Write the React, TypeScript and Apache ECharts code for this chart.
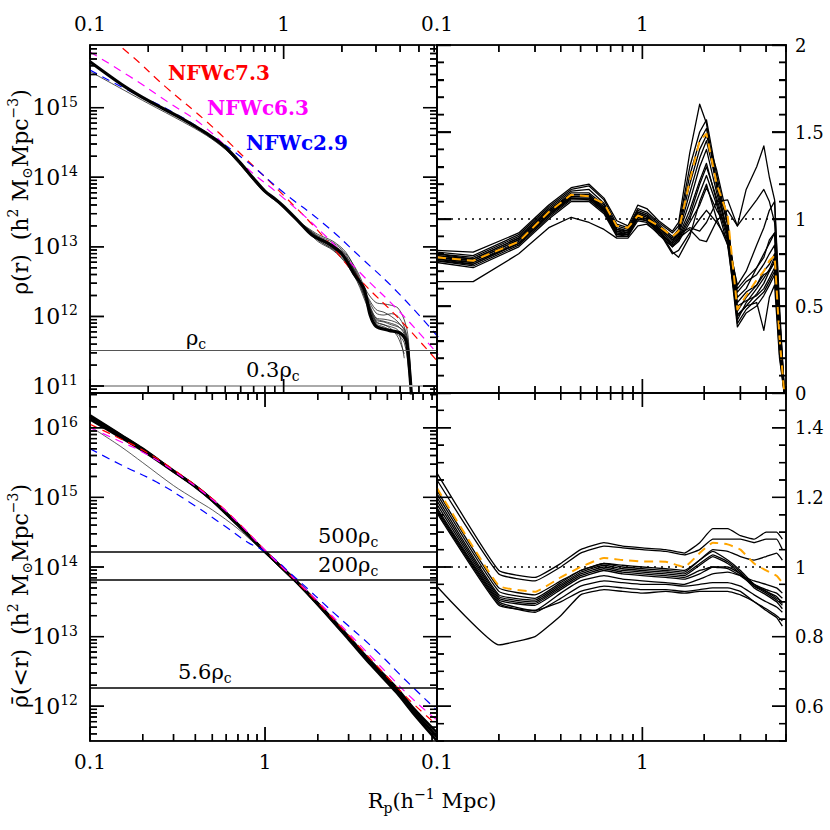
import React, { useEffect, useRef } from "react";
import * as echarts from "echarts";

const FONT = "'DejaVu Serif', 'Liberation Serif', serif";

// ================= constants =================
const RHO_C = 3.3e11; // critical density, h^2 Msun Mpc^-3
const TL_LEVELS = [1, 0.3]; // multiples of rho_c in top-left panel
const BL_LEVELS = [500, 200, 5.6]; // multiples of rho_c in bottom-left panel

// tick labels of the right panels
const TR_Y_LABELS = [0, 0.5, 1, 1.5, 2];
const BR_Y_LABELS = [0.6, 0.8, 1, 1.2, 1.4];

// ================= top-left: rho(r) (log10 values) =================
const TL_NFW_R = [0.1, 0.16, 0.25, 0.4, 0.63, 1.0, 1.6, 2.5, 4.0, 6.3];
const TL_NFW_C73 = [16.23, 15.77, 15.28, 14.8, 14.28, 13.74, 13.15, 12.52, 11.95, 11.34];
const TL_NFW_C63 = [15.8, 15.45, 15.09, 14.7, 14.16, 13.7, 13.19, 12.62, 12.06, 11.45];
const TL_NFW_C29 = [15.54, 15.24, 14.98, 14.64, 14.25, 13.78, 13.34, 12.85, 12.31, 11.7];

const TL_MAIN_R = [0.1, 0.15, 0.2, 0.3, 0.4, 0.5, 0.6, 0.7, 0.8, 0.9, 1.0, 1.2, 1.4, 1.7, 2.0, 2.3, 2.6, 2.8, 3.0, 3.5, 4.0, 4.3, 4.45, 4.62];
const TL_MAIN = [15.66, 15.31, 15.1, 14.84, 14.63, 14.43, 14.2, 13.98, 13.8, 13.69, 13.58, 13.36, 13.17, 13.05, 12.9, 12.62, 12.4, 12.02, 11.86, 11.8, 11.76, 11.64, 11.3, 10.7];

const TL_FULL_R = [0.1, 0.15, 0.2, 0.3, 0.4, 0.5, 0.6, 0.7, 0.8, 1.0, 1.2, 1.5, 1.8, 2.1, 2.4, 2.7, 3.0, 3.3, 3.6, 3.9, 4.2, 4.4, 4.6];
const TL_FULL = [15.52, 15.25, 15.06, 14.8, 14.6, 14.4, 14.17, 13.95, 13.78, 13.57, 13.35, 13.12, 12.99, 12.83, 12.58, 12.26, 11.97, 11.93, 11.9, 11.86, 11.75, 11.52, 10.75];

const TL_THIN_R = [1.2, 1.5, 1.8, 2.1, 2.4, 2.7, 3.0, 3.3, 3.6, 3.9, 4.2, 4.4, 4.6];
const TL_T1 = [13.36, 13.16, 13.06, 12.9, 12.65, 12.35, 12.2, 12.18, 12.16, 12.12, 11.95, 11.7, 10.8];
const TL_T2 = [13.36, 13.14, 13.02, 12.86, 12.6, 12.28, 12.05, 12.02, 12.04, 12.0, 11.85, 11.6, 10.8];
const TL_T3 = [13.35, 13.1, 12.96, 12.78, 12.52, 12.2, 11.95, 11.92, 11.88, 11.85, 11.78, 11.55, 10.75];
const TL_T4 = [13.36, 13.12, 13.0, 12.84, 12.58, 12.25, 11.9, 11.85, 11.8, 11.74, 11.62, 11.3, 10.7];
const TL_T5 = [13.37, 13.13, 12.98, 12.8, 12.55, 12.18, 11.92, 11.88, 11.82, 11.7, 11.46, null, null];
const TL_T6 = [13.35, 13.08, 12.95, 12.76, 12.5, 12.15, 11.88, 11.83, 11.8, 11.76, 11.7, 11.5, 10.8];
const TL_T7 = [13.36, 13.18, 13.08, 12.92, 12.62, 12.3, 12.1, 12.06, 12.0, 11.92, 11.8, 11.55, 10.75];
const TL_T8 = [13.36, 13.1, 12.97, 12.82, 12.56, 12.22, 11.98, 11.96, 11.94, 11.9, 11.82, 11.62, 10.8];
const TL_T9 = [13.36, 13.15, 13.03, 12.88, 12.57, 12.24, 11.93, 11.88, 11.85, 11.8, 11.4, null, null];

// ================= bottom-left: mean density (log10 values) =================
const BL_R = [0.1, 0.15, 0.2, 0.3, 0.4, 0.5, 0.7, 1.0, 1.5, 2.0, 3.0, 4.0, 5.66, 7.0, 9.6];
const BL_MAIN = [16.16, 15.89, 15.69, 15.38, 15.16, 14.96, 14.61, 14.22, 13.8, 13.47, 12.98, 12.62, 12.22, 11.94, 11.56];
const BL_A = [16.18, 15.9, 15.7, 15.38, 15.16, 14.96, 14.61, 14.22, 13.79, 13.46, 12.96, 12.6, 12.19, 11.9, 11.5];
const BL_B = [16.12, 15.86, 15.67, 15.37, 15.15, 14.95, 14.6, 14.22, 13.8, 13.48, 13.0, 12.65, 12.26, 11.98, 11.62];
const BL_THIN = [16.02, 15.73, 15.5, 15.17, 14.97, 14.82, 14.55, 14.2, 13.79, 13.46, 12.97, 12.61, 12.21, 11.93, 11.55];

const BL_NFW_R = [0.1, 0.15, 0.2, 0.3, 0.5, 0.7, 1.0, 1.5, 2.0, 3.0, 5.0, 7.0, 9.6];
const BL_NFW_C73 = [16.05, 15.84, 15.68, 15.4, 14.98, 14.64, 14.24, 13.8, 13.49, 13.02, 12.42, 12.04, 11.73];
const BL_NFW_C63 = [16.0, 15.8, 15.65, 15.38, 14.97, 14.64, 14.24, 13.81, 13.51, 13.05, 12.47, 12.1, 11.8];
const BL_NFW29_R = [0.1, 0.15, 0.24, 0.37, 0.58, 0.79, 1.0, 1.5, 2.5, 4.3, 6.2, 9.6];
const BL_NFW_C29 = [15.7, 15.47, 15.22, 14.93, 14.6, 14.36, 14.22, 13.84, 13.33, 12.8, 12.4, 11.94];

// ================= top-right: density ratio =================
const TR_R = [0.1, 0.15, 0.25, 0.35, 0.45, 0.55, 0.65, 0.75, 0.85, 0.95, 1.05, 1.2, 1.4, 1.5, 1.7, 1.9, 2.05, 2.3, 2.6, 2.9, 3.2, 3.6, 3.9, 4.15, 4.4, 4.65, 4.9];
const TR_L1 = [0.82, 0.81, 0.92, 1.08, 1.18, 1.2, 1.12, 0.99, 0.96, 1.08, 1.06, 0.99, 0.93, 0.98, 1.38, 1.66, 1.55, 1.18, 0.92, 0.6, 0.66, 0.72, 0.8, 0.86, 0.92, 0.4, 0.02];
const TR_L2 = [0.81, 0.79, 0.91, 1.07, 1.17, 1.19, 1.11, 0.97, 0.95, 1.06, 1.04, 0.98, 0.92, 0.96, 1.3, 1.5, 1.57, 1.25, 0.96, 0.47, 0.55, 0.62, 0.7, 0.74, 0.8, 0.32, 0.0];
const TR_L3 = [0.8, 0.78, 0.9, 1.06, 1.16, 1.17, 1.09, 0.96, 0.94, 1.05, 1.03, 0.97, 0.9, 0.94, 1.25, 1.45, 1.52, 1.22, 0.9, 0.42, 0.52, 0.6, 0.66, 0.71, 0.78, 0.3, 0.0];
const TR_L4 = [0.79, 0.77, 0.89, 1.05, 1.15, 1.15, 1.08, 0.95, 0.93, 1.04, 1.02, 0.96, 0.89, 0.93, 1.2, 1.4, 1.48, 1.28, 1.0, 0.45, 0.5, 0.57, 0.63, 0.7, 0.75, 0.28, 0.0];
const TR_L5 = [0.78, 0.76, 0.88, 1.04, 1.14, 1.14, 1.07, 0.94, 0.93, 1.03, 1.01, 0.95, 0.88, 0.92, 1.15, 1.35, 1.45, 1.2, 0.98, 0.5, 0.53, 0.56, 0.6, 0.66, 0.72, 0.25, 0.0];
const TR_L6 = [0.77, 0.75, 0.87, 1.03, 1.13, 1.13, 1.06, 0.93, 0.92, 1.02, 1.0, 0.94, 0.87, 0.91, 1.1, 1.3, 1.4, 1.15, 0.92, 0.4, 0.48, 0.54, 0.58, 0.64, 0.7, 0.3, 0.01];
const TR_L7 = [0.76, 0.74, 0.86, 1.02, 1.12, 1.12, 1.05, 0.92, 0.91, 1.01, 0.99, 0.93, 0.86, 0.9, 1.05, 1.22, 1.32, 1.1, 0.88, 0.38, 0.46, 0.5, 0.56, 0.62, 0.68, 0.22, 0.0];
const TR_L8 = [0.76, 0.73, 0.85, 1.01, 1.11, 1.11, 1.04, 0.91, 0.91, 1.0, 0.99, 0.92, 0.85, 0.88, 1.0, 1.15, 1.25, 1.08, 0.85, 0.44, 0.5, 0.52, 0.36, 0.55, 0.62, 0.2, 0.0];
const TR_L9 = [0.75, 0.72, 0.84, 1.0, 1.1, 1.1, 1.03, 0.9, 0.9, 0.99, 0.98, 0.91, 0.84, 0.87, 0.98, 1.08, 1.18, 1.05, 0.95, 0.55, 0.6, 0.72, 0.78, 0.88, 0.92, 0.35, 0.02];
const TR_L10 = [0.8, 0.77, 0.89, 1.05, 1.14, 1.14, 1.06, 0.94, 0.92, 1.04, 1.02, 0.95, 0.88, 0.91, 0.95, 0.93, 0.98, 1.1, 1.11, 0.96, 1.03, 1.11, 1.17, 1.1, 0.98, 0.45, 0.03];
const TR_L11 = [0.79, 0.76, 0.88, 1.04, 1.13, 1.13, 1.05, 0.93, 0.91, 1.03, 1.01, 0.94, 0.84, 0.89, 0.94, 0.88, 0.87, 0.99, 1.05, 0.96, 1.17, 1.3, 1.42, 1.24, 1.11, 0.5, 0.02];
const TR_L12 = [0.77, 0.74, 0.86, 1.02, 1.12, 1.11, 1.04, 0.91, 0.9, 1.01, 1.0, 0.93, 0.8, 0.82, 0.92, 1.0, 1.05, 0.98, 0.88, 0.62, 0.7, 0.85, 0.95, 1.05, 1.1, 0.45, 0.02];
const TR_L13 = [0.78, 0.75, 0.86, 1.03, 1.12, 1.12, 1.05, 0.92, 0.91, 1.02, 1.0, 0.94, 0.81, 0.78, 0.9, 1.1, 1.2, 1.0, 0.85, 0.58, 0.64, 0.68, 0.74, 0.8, 0.85, 0.38, 0.0];
const TR_L14 = [0.64, 0.64, 0.8, 0.95, 1.01, 0.98, 0.94, 0.89, 0.89, 0.96, 0.97, 0.92, 0.86, 0.89, 1.02, 1.2, 1.3, 1.12, 0.9, 0.52, 0.58, 0.62, 0.68, 0.7, 0.76, 0.3, 0.0];
const TR_MEAN = [0.78, 0.76, 0.87, 1.04, 1.14, 1.13, 1.09, 0.96, 0.95, 1.02, 1.0, 0.96, 0.9, 0.93, 1.22, 1.45, 1.49, 1.2, 1.02, 0.48, 0.56, 0.65, 0.7, 0.76, 0.79, 0.32, 0.0];

// ================= bottom-right: mean density ratio =================
const BR_R = [0.1, 0.2, 0.3, 0.4, 0.5, 0.65, 0.8, 1.0, 1.3, 1.6, 1.9, 2.2, 2.6, 3.0, 3.5, 4.0, 4.5, 4.8];
const BR_B1 = [1.27, 0.99, 0.97, 1.01, 1.05, 1.07, 1.06, 1.055, 1.05, 1.04, 1.07, 1.11, 1.11, 1.09, 1.08, 1.1, 1.1, 1.08];
const BR_B2 = [1.25, 0.98, 0.96, 1.0, 1.04, 1.06, 1.055, 1.05, 1.045, 1.035, 1.05, 1.08, 1.08, 1.08, 1.07, 1.08, 1.08, 1.05];
const BR_B3 = [1.22, 0.94, 0.92, 0.96, 0.99, 1.01, 1.005, 1.0, 0.995, 0.99, 1.02, 1.05, 1.045, 1.03, 1.02, 1.03, 1.04, 1.02];
const BR_B4 = [1.21, 0.93, 0.91, 0.955, 0.99, 1.01, 1.0, 0.995, 0.99, 0.985, 1.02, 1.045, 1.02, 0.99, 0.95, 0.93, 0.91, 0.9];
const BR_B5 = [1.2, 0.92, 0.905, 0.95, 0.985, 1.005, 0.995, 0.99, 0.985, 0.98, 1.01, 1.035, 1.015, 0.985, 0.945, 0.925, 0.905, 0.89];
const BR_B6 = [1.19, 0.915, 0.9, 0.945, 0.98, 1.0, 0.99, 0.985, 0.98, 0.975, 1.005, 1.03, 1.01, 0.98, 0.94, 0.92, 0.9, 0.88];
const BR_B7 = [1.18, 0.91, 0.895, 0.94, 0.975, 0.995, 0.985, 0.98, 0.975, 0.97, 0.99, 1.0, 1.0, 0.98, 0.95, 0.935, 0.925, 0.91];
const BR_B8 = [1.17, 0.905, 0.89, 0.935, 0.97, 0.99, 0.98, 0.975, 0.97, 0.965, 0.98, 1.0, 0.995, 0.975, 0.945, 0.93, 0.915, 0.895];
const BR_B9 = [1.165, 0.9, 0.875, 0.925, 0.96, 0.975, 0.965, 0.96, 0.955, 0.95, 0.965, 0.98, 0.985, 0.975, 0.96, 0.95, 0.94, 0.925];
const BR_B10 = [1.16, 0.895, 0.87, 0.91, 0.945, 0.96, 0.955, 0.95, 0.95, 0.945, 0.95, 0.955, 0.955, 0.945, 0.92, 0.9, 0.885, 0.87];
const BR_B11 = [1.155, 0.89, 0.875, 0.9, 0.93, 0.945, 0.94, 0.935, 0.935, 0.93, 0.935, 0.94, 0.94, 0.93, 0.9, 0.88, 0.86, 0.845];
const BR_B12 = [0.944, 0.776, 0.8, 0.86, 0.92, 0.935, 0.93, 0.925, 0.93, 0.925, 0.93, 0.93, 0.93, 0.92, 0.9, 0.875, 0.855, 0.83];
const BR_MEAN = [1.227, 0.946, 0.929, 0.97, 1.0, 1.026, 1.02, 1.016, 1.015, 1.0, 1.04, 1.07, 1.065, 1.05, 1.01, 0.99, 0.975, 0.955];

// ================= helpers =================
const lg = Math.log10;

function logTicks(min: number, max: number) {
  const major: number[] = [];
  const minor: number[] = [];
  for (let n = Math.floor(min) - 1; n <= Math.ceil(max); n++) {
    for (let k = 1; k <= 9; k++) {
      const v = n + lg(k);
      if (v < min - 1e-9 || v > max + 1e-9) continue;
      if (k === 1) major.push(v);
      else minor.push(v);
    }
  }
  return { major, minor };
}

function linTicks(min: number, max: number, step: number) {
  const out: number[] = [];
  for (let i = 0; i < 1000; i++) {
    const v = Number((min + i * step).toFixed(6));
    if (v > max + 1e-9) break;
    out.push(v);
  }
  return out;
}

const PANELS = [
  { x: [-1, lg(6.2)], y: [10.9, 15.9], yLog: true, xLab: "top", yLab: "left", yMajor: [] as number[], yStep: 0 },
  { x: [-1, lg(5)], y: [0, 2], yLog: false, xLab: "top", yLab: "right", yMajor: TR_Y_LABELS, yStep: 0.1 },
  { x: [-1, lg(9.6)], y: [11.5, 16.5], yLog: true, xLab: "bottom", yLab: "left", yMajor: [] as number[], yStep: 0 },
  { x: [-1, lg(5)], y: [0.5, 1.5], yLog: false, xLab: "bottom", yLab: "right", yMajor: BR_Y_LABELS, yStep: 0.05 },
];
const GRIDS = [
  { left: 90, top: 45, width: 347, height: 348 },
  { left: 437, top: 45, width: 349, height: 348 },
  { left: 90, top: 393, width: 347, height: 348 },
  { left: 437, top: 393, width: 349, height: 348 },
];

function panelTicks(g: number) {
  const p = PANELS[g];
  const xt = logTicks(p.x[0], p.x[1]);
  let yMaj: number[];
  let yMin: number[];
  if (p.yLog) {
    const t = logTicks(p.y[0], p.y[1]);
    yMaj = t.major;
    yMin = t.minor;
  } else {
    yMaj = p.yMajor;
    yMin = linTicks(p.y[0], p.y[1], p.yStep).filter((v) => !yMaj.some((m) => Math.abs(m - v) < 1e-6));
  }
  const xs: number[][] = [];
  xt.major.forEach((v) => xs.push([v, 14]));
  xt.minor.forEach((v) => xs.push([v, 7]));
  const ys: number[][] = [];
  yMaj.forEach((v) => ys.push([v, 14]));
  yMin.forEach((v) => ys.push([v, 7]));
  xs.sort((a, b) => a[0] - b[0]);
  ys.sort((a, b) => a[0] - b[0]);
  return { xs, ys, yMaj };
}

function buildTexts() {
  const base = { fontFamily: FONT, fill: "#000" };
  const rcRich = {
    r: { ...base, fontSize: 21, lineHeight: 26 },
    c: { ...base, fontSize: 14, lineHeight: 14, verticalAlign: "bottom" },
  };
  const txt = (x: number, y: number, text: string, style: any = {}, extra: any = {}) => ({
    type: "text",
    x,
    y,
    silent: true,
    z: 50,
    ...extra,
    style: {
      text,
      fontFamily: FONT,
      fontSize: 21,
      fill: "#000",
      align: "left",
      verticalAlign: "middle",
      textAlign: "left",
      textVerticalAlign: "middle",
      ...style,
    },
  });
  const titleRich = {
    a: { ...base, fontSize: 22, lineHeight: 28 },
    p: { ...base, fontSize: 14, lineHeight: 18, verticalAlign: "top" },
    b: { ...base, fontSize: 14, lineHeight: 14, verticalAlign: "bottom" },
  };
  const center = { align: "center", textAlign: "center" };
  return [
    txt(168, 73, "NFWc7.3", { fill: "#ff0000", fontWeight: "bold", fontSize: 20 }),
    txt(207, 108, "NFWc6.3", { fill: "#ff00ff", fontWeight: "bold", fontSize: 20 }),
    txt(246, 143, "NFWc2.9", { fill: "#0000ff", fontWeight: "bold", fontSize: 20 }),
    txt(186, 338, "{r|ρ}{c|c}", { rich: rcRich }),
    txt(246, 370, "{r|0.3ρ}{c|c}", { rich: rcRich }),
    txt(318, 536, "{r|500ρ}{c|c}", { rich: rcRich }),
    txt(318, 565, "{r|200ρ}{c|c}", { rich: rcRich }),
    txt(178, 672, "{r|5.6ρ}{c|c}", { rich: rcRich }),
    txt(20, 192, "{a|ρ(r)  (h}{p|2}{a| M}{b|⊙}{a|Mpc}{p|−3}{a|)}", { rich: titleRich, ...center }, { rotation: Math.PI / 2 }),
    txt(20, 596, "{a|ρ\u0304(<r)  (h}{p|2}{a| M}{b|⊙}{a|Mpc}{p|−3}{a|)}", { rich: titleRich, ...center }, { rotation: Math.PI / 2 }),
    txt(432, 801, "{a|R}{b|p}{a|(h}{p|−1}{a| Mpc)}", { rich: { ...titleRich, a: { ...base, fontSize: 21, lineHeight: 28 } }, ...center }),
  ];
}

// tick marks (axis furniture) on each panel frame, as graphic segments
function buildTickGraphics() {
  const els: any[] = [];
  PANELS.forEach((p, g) => {
    const gr = GRIDS[g];
    const { xs, ys } = panelTicks(g);
    const top = gr.top;
    const bottom = gr.top + gr.height;
    const left = gr.left;
    const right = gr.left + gr.width;
    const seg = (x1: number, y1: number, x2: number, y2: number) => ({
      type: "line",
      silent: true,
      z: 45,
      shape: { x1, y1, x2, y2 },
      style: { stroke: "#000", lineWidth: 1.4 },
    });
    xs.forEach(([v, len]) => {
      const px = left + ((v - p.x[0]) / (p.x[1] - p.x[0])) * gr.width;
      els.push(seg(px, bottom, px, bottom - len));
      els.push(seg(px, top, px, top + len));
    });
    ys.forEach(([v, len]) => {
      const py = bottom - ((v - p.y[0]) / (p.y[1] - p.y[0])) * gr.height;
      els.push(seg(left, py, left + len, py));
      els.push(seg(right, py, right - len, py));
    });
  });
  return els;
}

function buildOption() {
  const xAxes: any[] = [];
  const yAxes: any[] = [];
  const idx: { x: number; y: number }[] = [];
  const series: any[] = [];

  const mkAxis = (list: any[], gridIndex: number, position: string, range: number[], label: any, extra: any = {}) => {
    list.push({
      type: "value",
      gridIndex,
      position,
      min: range[0],
      max: range[1],
      axisLine: { show: true, onZero: false, lineStyle: { color: "#000", width: 1.6 } },
      axisTick: { show: false },
      axisLabel: label ? { show: true, ...label } : { show: false },
      splitLine: { show: false },
      axisPointer: { show: false },
      ...extra,
    });
    return list.length - 1;
  };

  const xLabel = {
    customValues: [-1, 0],
    formatter: (v: number) => (v < -0.5 ? "0.1" : "1"),
    fontFamily: FONT,
    fontSize: 20,
    color: "#000",
    margin: 11,
  };
  const yLogLabel = (vals: number[]) => ({
    customValues: vals,
    formatter: (v: number) => `{b|10}{s|${Math.round(v)}}`,
    fontFamily: FONT,
    fontSize: 22,
    color: "#000",
    margin: 12,
    rich: {
      b: { fontFamily: FONT, fontSize: 22, color: "#000", lineHeight: 26 },
      s: { fontFamily: FONT, fontSize: 14, color: "#000", lineHeight: 19, verticalAlign: "top" },
    },
  });
  const yLinLabel = (vals: number[]) => ({
    customValues: vals,
    formatter: (v: number) => String(v),
    fontFamily: FONT,
    fontSize: 18,
    color: "#000",
    margin: 9,
  });
  // native ticks for the top-right ratio axis (0..2, step 0.5, min is a multiple of it)
  const trNative = {
    interval: 0.5,
    axisTick: { show: true, inside: true, length: 14, lineStyle: { color: "#000", width: 1.4 } },
    minorTick: { show: true, splitNumber: 5, length: 7, lineStyle: { color: "#000", width: 1.4 } },
  };

  PANELS.forEach((p, g) => {
    const { xs, ys, yMaj } = panelTicks(g);
    const xb = mkAxis(xAxes, g, "bottom", p.x, p.xLab === "bottom" ? xLabel : null);
    mkAxis(xAxes, g, "top", p.x, p.xLab === "top" ? xLabel : null);
    const lab = p.yLog ? yLogLabel(yMaj) : yLinLabel(p.yMajor);
    const extra = g === 1 ? trNative : {};
    const yl = mkAxis(yAxes, g, "left", p.y, p.yLab === "left" ? lab : null, extra);
    mkAxis(yAxes, g, "right", p.y, p.yLab === "right" ? lab : null, extra);
    idx.push({ x: xb, y: yl });

    // tick "combs" along each frame side, drawn through the panel's axes
    const gr = GRIDS[g];
    const dy = (p.y[1] - p.y[0]) / gr.height;
    const dx = (p.x[1] - p.x[0]) / gr.width;
    const combs: number[][][] = [[], [], [], []];
    xs.forEach(([v, len]) => {
      combs[0].push([v, p.y[0]], [v, p.y[0] + len * dy], [v, p.y[0]]);
      combs[1].push([v, p.y[1]], [v, p.y[1] - len * dy], [v, p.y[1]]);
    });
    ys.forEach(([v, len]) => {
      combs[2].push([p.x[0], v], [p.x[0] + len * dx, v], [p.x[0], v]);
      combs[3].push([p.x[1], v], [p.x[1] - len * dx, v], [p.x[1], v]);
    });
    combs.forEach((c) =>
      series.push({
        type: "line",
        xAxisIndex: xb,
        yAxisIndex: yl,
        data: c,
        symbol: "none",
        showSymbol: false,
        silent: true,
        smooth: false,
        z: 8,
        lineStyle: { color: "#000", width: 1.4, join: "miter" },
        emphasis: { disabled: true },
      })
    );
  });

  const line = (g: number, xs: number[], ys: (number | null)[], color: string, width: number, opts: any = {}) => {
    const data: number[][] = [];
    xs.forEach((x, i) => {
      const y = ys[i];
      if (y !== null && y !== undefined) data.push([lg(x), y]);
    });
    const s: any = {
      type: "line",
      xAxisIndex: idx[g].x,
      yAxisIndex: idx[g].y,
      data,
      symbol: "none",
      showSymbol: false,
      silent: true,
      smooth: opts.smooth ?? false,
      z: opts.z ?? 2,
      lineStyle: { color, width, type: opts.type ?? "solid", cap: "butt", join: "round" },
      emphasis: { disabled: true },
    };
    if (opts.markLine) s.markLine = opts.markLine;
    series.push(s);
  };
  const hLines = (items: { v: number; color: string; width: number; type?: any }[]) => ({
    silent: true,
    symbol: ["none", "none"],
    label: { show: false },
    animation: false,
    emphasis: { disabled: true },
    data: items.map((it) => ({ yAxis: it.v, lineStyle: { color: it.color, width: it.width, type: it.type ?? "solid" } })),
  });

  // ---- top-left ----
  line(0, TL_NFW_R, TL_NFW_C73, "#ff0000", 1.2, { type: [8, 6], smooth: true, z: 3 });
  line(0, TL_NFW_R, TL_NFW_C63, "#ff00ff", 1.2, { type: [8, 6], smooth: true, z: 3 });
  line(0, TL_NFW_R, TL_NFW_C29, "#0000ff", 1.2, { type: [8, 6], smooth: true, z: 3 });
  [TL_T1, TL_T2, TL_T3, TL_T4, TL_T5, TL_T6, TL_T7, TL_T8, TL_T9].forEach((t) =>
    line(0, TL_THIN_R, t, "#222", 0.8, { smooth: 0.3 })
  );
  line(0, TL_FULL_R, TL_FULL, "#222", 0.8, { smooth: 0.3 });
  line(0, TL_MAIN_R, TL_MAIN, "#000", 3.2, {
    smooth: 0.3,
    z: 4,
    markLine: hLines([
      { v: lg(RHO_C * TL_LEVELS[0]), color: "#555", width: 1 },
      { v: lg(RHO_C * TL_LEVELS[1]), color: "#aaa", width: 2 },
    ]),
  });

  // ---- top-right ----
  [TR_L1, TR_L2, TR_L3, TR_L4, TR_L5, TR_L6, TR_L7, TR_L8, TR_L9, TR_L10, TR_L11, TR_L12, TR_L13, TR_L14].forEach((t, i) =>
    line(1, TR_R, t, "#000", 1.3, i === 0 ? { markLine: hLines([{ v: 1, color: "#000", width: 1.6, type: [2, 5] }]) } : {})
  );
  line(1, TR_R, TR_MEAN, "#ffa500", 2, { type: [9, 6], z: 5 });

  // ---- bottom-left ----
  line(2, BL_NFW29_R, BL_NFW_C29, "#0000ff", 1.2, { type: [8, 6], smooth: true, z: 3 });
  line(2, BL_R, BL_THIN, "#333", 0.8, { smooth: 0.3 });
  line(2, BL_R, BL_A, "#000", 2.6, { smooth: 0.3 });
  line(2, BL_R, BL_B, "#000", 2.6, { smooth: 0.3 });
  line(2, BL_R, BL_MAIN, "#000", 3, {
    smooth: 0.3,
    markLine: hLines(BL_LEVELS.map((m) => ({ v: lg(RHO_C * m), color: "#000", width: 1.5 }))),
  });
  line(2, BL_NFW_R, BL_NFW_C73, "#ff0000", 1.2, { type: [8, 6], smooth: true, z: 3 });
  line(2, BL_NFW_R, BL_NFW_C63, "#ff00ff", 1.2, { type: [8, 6], smooth: true, z: 3 });

  // ---- bottom-right ----
  [BR_B1, BR_B2, BR_B3, BR_B4, BR_B5, BR_B6, BR_B7, BR_B8, BR_B9, BR_B10, BR_B11, BR_B12].forEach((t, i) =>
    line(3, BR_R, t, "#000", 1.3, i === 0 ? { smooth: 0.12, markLine: hLines([{ v: 1, color: "#000", width: 1.6, type: [2, 5] }]) } : { smooth: 0.12 })
  );
  line(3, BR_R, BR_MEAN, "#ffa500", 2, { type: [9, 6], smooth: 0.12, z: 5 });

  return {
    animation: false,
    backgroundColor: "#fff",
    grid: GRIDS,
    xAxis: xAxes,
    yAxis: yAxes,
    series,
    graphic: [...buildTexts(), ...buildTickGraphics()],
  };
}

export default function App() {
  const ref = useRef<HTMLDivElement>(null);
  useEffect(() => {
    document.body.style.margin = "0";
    const chart = echarts.init(ref.current as HTMLDivElement, null, { renderer: "svg" });
    chart.setOption(buildOption() as any);
    return () => chart.dispose();
  }, []);
  return <div ref={ref} style={{ width: 830, height: 830, overflow: "hidden" }} />;
}
